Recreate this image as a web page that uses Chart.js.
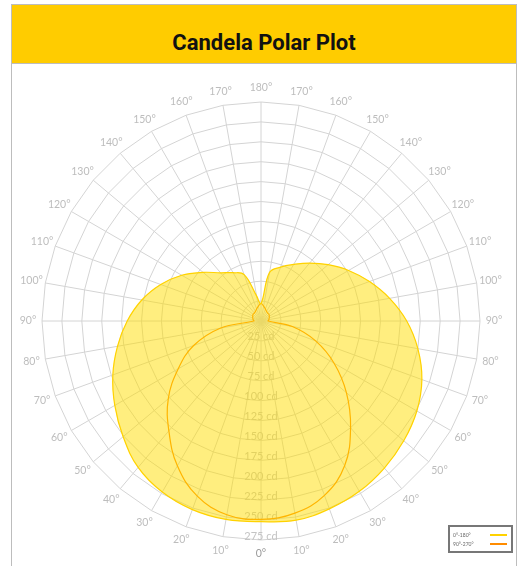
<!DOCTYPE html>
<html><head><meta charset="utf-8">
<script src="https://cdn.jsdelivr.net/npm/chart.js@4.4.1/dist/chart.umd.min.js"></script>
<style>
html,body{margin:0;padding:0;background:#fff;width:518px;height:566px;overflow:hidden;}
#frame{position:absolute;left:11px;top:4px;width:504px;height:620px;border:1px solid #bdbdbd;}
#banner{position:absolute;left:0;top:0;width:504px;height:58px;background:#FFCC00;border-bottom:1px solid #bdbdbd;}
#title{position:absolute;left:0;right:0;top:25px;text-align:center;line-height:22px;font:bold 22px Roboto, sans-serif;color:#111;}
#wrap{position:absolute;left:12px;top:64px;width:504px;height:502px;}
</style></head>
<body>
<div id="frame"><div id="banner"><div id="title">Candela Polar Plot</div></div></div>
<div id="wrap"><canvas id="c"></canvas></div>
<script>
// Angle labels: 0° at bottom, going clockwise up the left side to 180°, then down the right side
const angleLabels = ['0°','10°','20°','30°','40°','50°','60°','70°','80°','90°','100°','110°','120°','130°','140°','150°','160°','170°','180°',
                     '170°','160°','150°','140°','130°','120°','110°','100°','90°','80°','70°','60°','50°','40°','30°','20°','10°'];
const seriesNames = ['0°-180°', '90°-270°'];
// C0–C180 plane (left side 0..180, then right side 170..10), candela
const plane0_180 = [252,253,252,248,240,226,212,198,183,168,152,134,115,95,79,70,62,32,22,
                    62,72,82,95,110,127,145,164,183,200,215,226,234,241,247,251,254];
// C90–C270 plane
const plane90_270 = [249,247,234,210,180,152,120,90,52,9,10,11,12,13,13,14,16,19,22,
                     19,16,14,13,13,12,11,10,9,40,73,106,140,175,210,233,245];
const rMax = 275, rStep = 25, tickUnit = ' cd';

const cdTicks = {
  id: 'cdTicks',
  beforeDatasetsDraw(chart) {
    const s = chart.scales.r, ctx = chart.ctx;
    ctx.save();
    ctx.font = '11px Lato';
    ctx.fillStyle = '#c4c4c4';
    ctx.textAlign = 'center';
    ctx.textBaseline = 'middle';
    s.ticks.forEach(t => {
      if (t.value <= 0) return;
      const d = s.getDistanceFromCenterForValue(t.value);
      ctx.fillText(t.value + tickUnit, s.xCenter, s.yCenter + d - 4);
    });
    // angle labels, centred at a fixed distance beyond the outer ring
    ctx.font = '10.5px Lato';
    angleLabels.forEach((lab, i) => {
      const p = s.getPointPosition(i, s.drawingArea + 14);
      ctx.fillStyle = i === 0 ? '#9a9a9a' : '#bdbdbd';
      ctx.fillText(lab, p.x, p.y);
    });
    ctx.restore();
  }
};
const boxLegend = {
  id: 'boxLegend',
  afterDraw(chart) {
    const ctx = chart.ctx;
    const x0 = chart.width - 67, y0 = chart.height - 40, w = 63, h = 26;
    ctx.save();
    ctx.strokeStyle = '#777';
    ctx.lineWidth = 2;
    ctx.strokeRect(x0, y0, w, h);
    ctx.font = '5px Lato';
    ctx.fillStyle = '#666';
    ctx.textBaseline = 'middle';
    chart.data.datasets.forEach((ds, i) => {
      const y = y0 + 9 + i * 9;
      ctx.fillText(ds.label, x0 + 4, y);
      ctx.strokeStyle = ds.borderColor;
      ctx.lineWidth = 2;
      ctx.beginPath(); ctx.moveTo(x0 + 41, y); ctx.lineTo(x0 + 58, y); ctx.stroke();
    });
    ctx.restore();
  }
};

new Chart(document.getElementById('c'), {
  type: 'radar',
  data: {
    labels: angleLabels,
    datasets: [
      { label: seriesNames[0], data: plane0_180, borderColor: '#FFD200', backgroundColor: 'rgba(255,221,0,0.5)',
        borderWidth: 1.2, fill: true, pointRadius: 0, tension: 0.4 },
      { label: seriesNames[1], data: plane90_270, borderColor: '#FF8C00', backgroundColor: 'rgba(0,0,0,0)',
        borderWidth: 1.2, fill: false, pointRadius: 0, tension: 0.4 }
    ]
  },
  options: {
    responsive: true, maintainAspectRatio: false, animation: false, events: [],
    layout: { padding: { left: 30, right: 36, top: 38, bottom: 26 } },
    plugins: { legend: { display: false }, tooltip: { enabled: false } },
    scales: {
      r: {
        startAngle: 180, min: 0, max: rMax,
        ticks: { stepSize: rStep, display: false },
        grid: { color: '#d4d4d4', lineWidth: 1 },
        angleLines: { color: '#d4d4d4', lineWidth: 1 },
        pointLabels: { display: false }
      }
    }
  },
  plugins: [cdTicks, boxLegend]
});
</script>
</body></html>
